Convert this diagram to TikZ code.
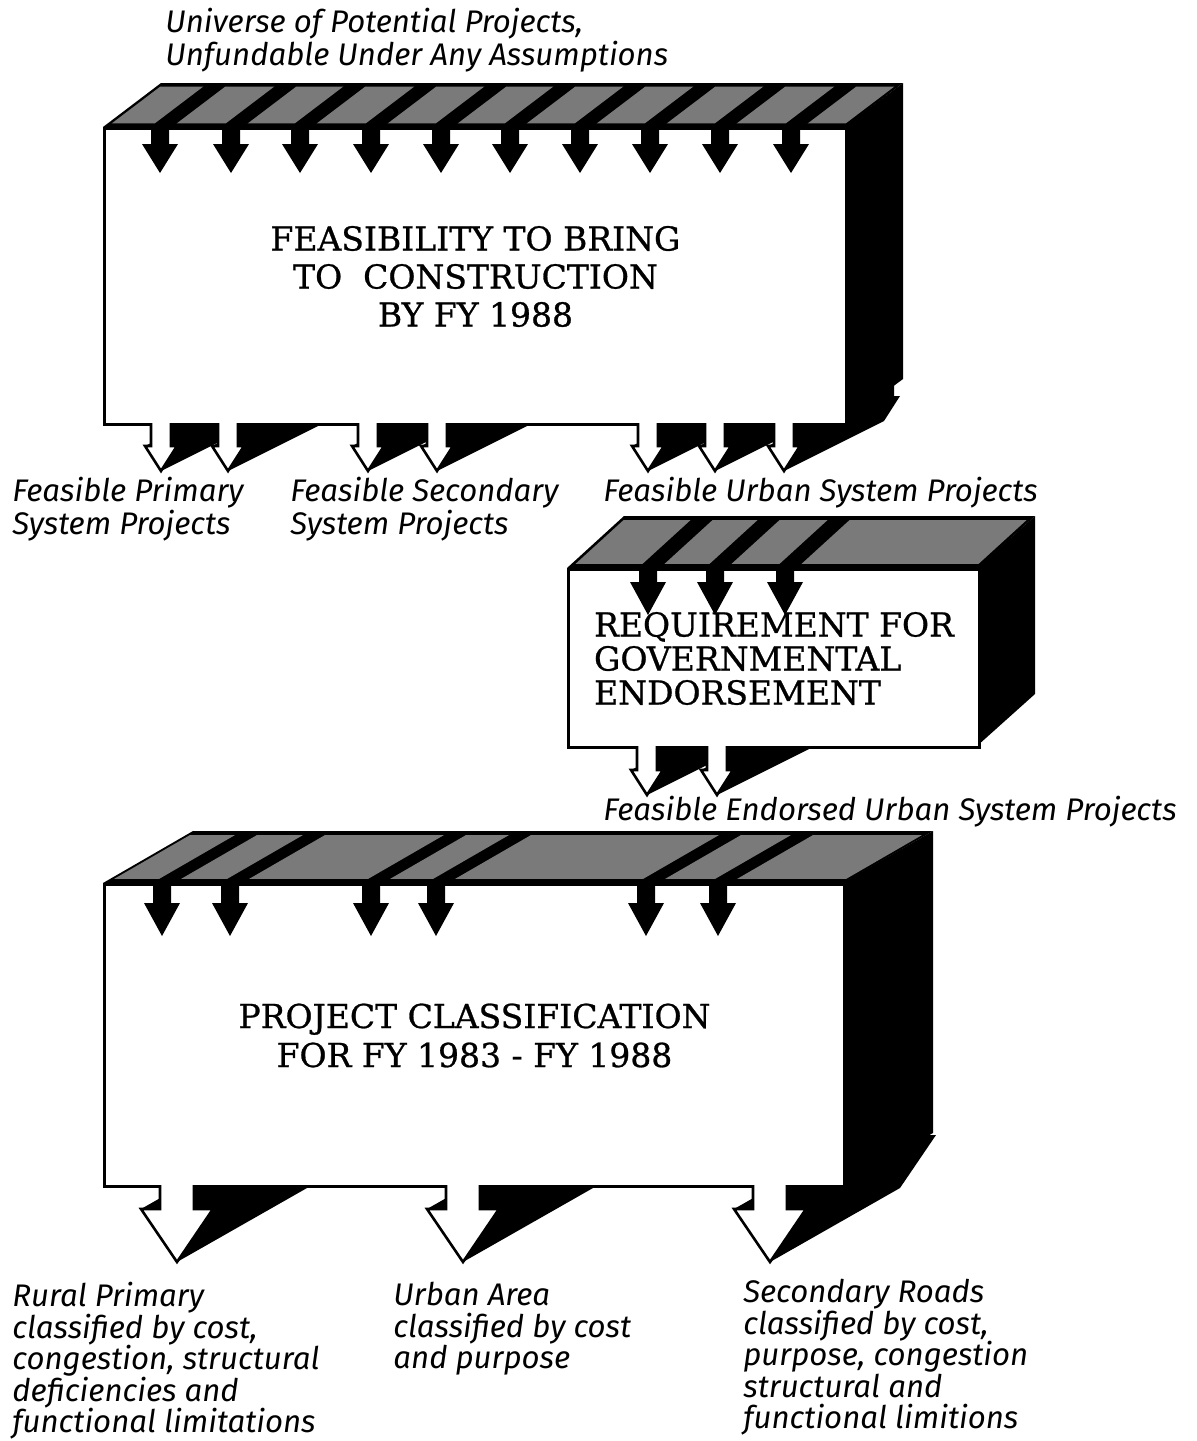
\documentclass[tikz,border=0pt]{standalone}
\usepackage{fontspec}
\setmainfont{DejaVu Serif}[FakeBold=0.8]
\newfontfamily\labfont{Fira Sans}

% Drawing units: one unit = 0.5pt, y grows downward
\tikzset{
  face/.style={draw=black, line width=1.5pt, fill=white, inner sep=0pt, anchor=north west},
  titlefont/.style={font=\fontsize{16.5}{#1}\selectfont},
  lab/.style={font=\labfont\itshape\fontsize{15.6}{#1}\selectfont, align=left, anchor=north west, inner sep=0pt},
  greyface/.style={fill=black!52},
  outline/.style={draw=black, line width=1.3pt, line join=miter},
}

% top face: x0, x1, y0, dx, dy, {band centres..., sentinel x1+6}
\newcommand\TopFace[6]{%
  \fill[black] (#1,#3) -- (#2,#3) -- ({#2+#4},{#3+#5}) -- ({#1+#4},{#3+#5}) -- cycle;
  \foreach \c [remember=\c as \p (initially #1-8)] in {#6}{
    \fill[greyface] ({\p+12+0.08*#4},{#3+0.08*#5}) -- ({\c-10+0.08*#4},{#3+0.08*#5})
      -- ({\c-10+0.92*#4},{#3+0.92*#5}) -- ({\p+12+0.92*#4},{#3+0.92*#5}) -- cycle;
  }
}
% side face: x1, y0, y1, dx, dy
\newcommand\SideFace[5]{%
  \fill[black] ({#1-1},#2) -- ({#1+#4},{#2+#5}) -- ({#1+#4},{#3+#5}) -- ({#1-1},#3) -- cycle;
}
% black arrow entering through the top: xc, y0, stem half width, stem length, head half width, tip
\newcommand\InArrow[6]{%
  \fill[black] ({#1-#3},{#2-3}) -- ({#1+#3},{#2-3}) -- ({#1+#3},{#2+#4}) -- ({#1+#5},{#2+#4})
    -- (#1,{#2+#6}) -- ({#1-#5},{#2+#4}) -- ({#1-#3},{#2+#4}) -- cycle;
}
% extruded side of an outgoing arrow: xc, y1, s, sl, h, tl, ex, ey
\newcommand\OutShadow[8]{%
  \fill[black] ({#1-#3},{#2+#4}) -- ({#1-#3},#2) -- ({#1-#3+#7},{#2+#8}) -- ({#1+#3+#7},{#2+#8})
    -- ({#1+#3+#7},{#2+#4+#8}) -- ({#1+#3},{#2+#4}) -- cycle;
  \fill[black] ({#1-#5},{#2+#4}) -- ({#1-#5+#7},{#2+#4+#8}) -- ({#1+#5+#7},{#2+#4+#8})
    -- ({#1+#7},{#2+#6+#8}) -- (#1,{#2+#6}) -- cycle;
}
% white front of an outgoing arrow: xc, y1, s, sl, h, tl
\newcommand\OutArrow[6]{%
  \fill[white] ({#1-#3},{#2-2}) -- ({#1-#3},{#2+#4}) -- ({#1-#5},{#2+#4}) -- (#1,{#2+#6})
    -- ({#1+#5},{#2+#4}) -- ({#1+#3},{#2+#4}) -- ({#1+#3},{#2-2}) -- cycle;
  \draw[outline] ({#1-#3},#2) -- ({#1-#3},{#2+#4}) -- ({#1-#5},{#2+#4}) -- (#1,{#2+#6})
    -- ({#1+#5},{#2+#4}) -- ({#1+#3},{#2+#4}) -- ({#1+#3},#2);
}

\begin{document}
\begin{tikzpicture}[x=0.5pt,y=-0.5pt]
\useasboundingbox (0,0) rectangle (1197,1441);

% ---------- feasibility block ----------
\TopFace{103}{845}{127}{58}{-44}{160,231,300,371,441,510,580,650,720,791,851}
\SideFace{845}{127}{423}{58}{-44}
\foreach \c in {161,228,368,437,648,715,784}{\OutShadow{\c}{423}{10}{23}{16}{48}{100}{-50}}
\node[face, minimum width=371pt, minimum height=148pt, titlefont=19, align=center]
  (feas) at (103,127) {FEASIBILITY TO BRING\\TO\ \ CONSTRUCTION\\BY FY 1988};
\foreach \c in {160,231,300,371,441,510,580,650,720,791}{\InArrow{\c}{127}{9}{17}{18}{46}}
\foreach \c in {161,228,368,437,648,715,784}{\OutArrow{\c}{423}{10}{23}{16}{48}}

% ---------- endorsement block ----------
\TopFace{567}{978}{568}{57}{-52}{648,715,785,984}
\SideFace{978}{568}{746}{57}{-52}
\foreach \c in {647,717}{\OutShadow{\c}{746}{10}{24}{16}{49}{100}{-50}}
\node[face, minimum width=205.5pt, minimum height=89pt, titlefont=17, align=left]
  (endo) at (567,568) {REQUIREMENT FOR\\GOVERNMENTAL\\ENDORSEMENT};
\foreach \c in {648,715,785}{\InArrow{\c}{568}{9}{14}{18}{47}}
\foreach \c in {647,717}{\OutArrow{\c}{746}{10}{24}{16}{49}}

% ---------- classification block ----------
\TopFace{103}{843}{883}{90}{-52}{162,230,371,436,646,718,849}
\SideFace{843}{883}{1185}{90}{-52}
\foreach \c in {177,463,770}{\OutShadow{\c}{1185}{17}{24}{36}{77}{130}{-74}}
\node[face, minimum width=370pt, minimum height=151pt, titlefont=19.5, align=center]
  (clas) at (103,883) {PROJECT CLASSIFICATION\\FOR FY 1983 - FY 1988};
\foreach \c in {162,230,371,436,646,718}{\InArrow{\c}{883}{9}{20}{18}{53}}
\foreach \c in {177,463,770}{\OutArrow{\c}{1185}{17}{24}{36}{77}}

% ---------- labels ----------
\node[lab=15] (universe) at (165,8) {Universe of Potential Projects,\\Unfundable Under Any Assumptions};
\node[lab=14.5] (primary) at (12,477) {Feasible Primary\\System Projects};
\node[lab=14.5] (secondary) at (290,477) {Feasible Secondary\\System Projects};
\node[lab=14.5] (urban) at (603,477) {Feasible Urban System Projects};
\node[lab=14.5] (endorsed) at (603,796) {Feasible Endorsed Urban System Projects};
\node[lab=15.75] (rural) at (12,1282) {Rural Primary\\classified by cost,\\congestion, structural\\deficiencies and\\functional limitations};
\node[lab=15.75] (urbanarea) at (393,1282) {Urban Area\\classified by cost\\and purpose};
\node[lab=15.75] (roads) at (743,1279) {Secondary Roads\\classified by cost,\\purpose, congestion\\structural and\\functional limitions};
\end{tikzpicture}
\end{document}
